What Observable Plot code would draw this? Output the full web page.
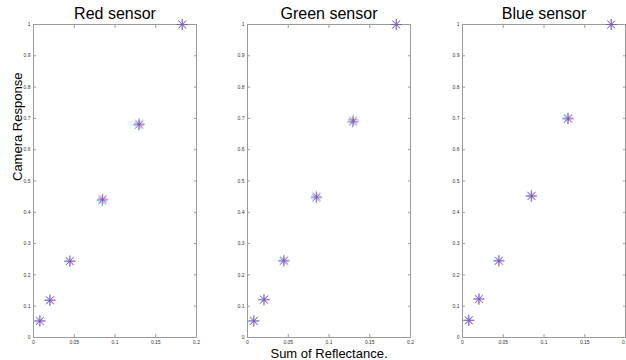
<!DOCTYPE html>
<html><head><meta charset="utf-8">
<script src="https://cdn.jsdelivr.net/npm/d3@7"></script>
<script src="https://cdn.jsdelivr.net/npm/@observablehq/plot@0.6"></script>
<style>
html,body{margin:0;padding:0;background:#fff;overflow:hidden}
#chart{position:relative;width:626px;height:360px;overflow:hidden}
#chart > div{position:absolute;top:0;width:206px;height:360px}
#chart svg{max-width:none}
</style></head><body><div id="chart"></div>
<script>
// ---- data ----
const sensors = ["Red sensor", "Green sensor", "Blue sensor"];
const seriesNames = ["red", "green", "blue", "cyan", "magenta"];
const seriesColors = ["#ff3030", "#20b020", "#2040ff", "#40b0ff", "#e040ff"];
const xTicks = [0, 0.05, 0.1, 0.15, 0.2];
const yTicks = [0, 0.1, 0.2, 0.3, 0.4, 0.5, 0.6, 0.7, 0.8, 0.9, 1];

// reflectance sums per series
const xRedSeries     = [0.0078, 0.0205, 0.0450, 0.0850, 0.1300, 0.1825];
const xGreenSeries   = [0.0080, 0.0200, 0.0445, 0.0845, 0.1295, 0.1825];
const xBlueSeries    = [0.0075, 0.0200, 0.0443, 0.0842, 0.1290, 0.1825];
const xCyanSeries    = [0.0072, 0.0198, 0.0440, 0.0840, 0.1288, 0.1825];
const xMagentaSeries = [0.0080, 0.0205, 0.0448, 0.0848, 0.1298, 0.1825];

// camera responses: red sensor
const redSensorRed     = [0.054, 0.120, 0.245, 0.443, 0.680, 1.0];
const redSensorGreen   = [0.053, 0.119, 0.244, 0.440, 0.684, 1.0];
const redSensorBlue    = [0.052, 0.118, 0.243, 0.437, 0.679, 1.0];
const redSensorCyan    = [0.055, 0.121, 0.246, 0.436, 0.677, 1.0];
const redSensorMagenta = [0.053, 0.119, 0.244, 0.441, 0.681, 1.0];
// green sensor
const greenSensorRed     = [0.053, 0.121, 0.246, 0.448, 0.692, 1.0];
const greenSensorGreen   = [0.054, 0.122, 0.248, 0.452, 0.696, 1.0];
const greenSensorBlue    = [0.052, 0.120, 0.243, 0.446, 0.688, 1.0];
const greenSensorCyan    = [0.053, 0.121, 0.244, 0.447, 0.689, 1.0];
const greenSensorMagenta = [0.053, 0.121, 0.245, 0.449, 0.690, 1.0];
// blue sensor
const blueSensorRed     = [0.055, 0.123, 0.245, 0.452, 0.699, 1.0];
const blueSensorGreen   = [0.054, 0.122, 0.246, 0.454, 0.702, 1.0];
const blueSensorBlue    = [0.055, 0.124, 0.244, 0.451, 0.698, 1.0];
const blueSensorCyan    = [0.056, 0.123, 0.247, 0.453, 0.700, 1.0];
const blueSensorMagenta = [0.055, 0.123, 0.245, 0.452, 0.699, 1.0];

const xBySeries = [xRedSeries, xGreenSeries, xBlueSeries, xCyanSeries, xMagentaSeries];
const yByPanel = [
  [redSensorRed, redSensorGreen, redSensorBlue, redSensorCyan, redSensorMagenta],
  [greenSensorRed, greenSensorGreen, greenSensorBlue, greenSensorCyan, greenSensorMagenta],
  [blueSensorRed, blueSensorGreen, blueSensorBlue, blueSensorCyan, blueSensorMagenta]
];

// ---- drawing ----
const asterisk = {
  draw(ctx, size) {
    const r = Math.sqrt(size / Math.PI), d = r * Math.SQRT1_2;
    ctx.moveTo(-r, 0); ctx.lineTo(r, 0);
    ctx.moveTo(0, -r); ctx.lineTo(0, r);
    ctx.moveTo(-d, -d); ctx.lineTo(d, d);
    ctx.moveTo(-d, d); ctx.lineTo(d, -d);
  }
};
const fmt = d => String(+d.toFixed(2));
const frameColor = "#9a9a9a";
const lefts = [0, 214, 429];
const chart = document.getElementById("chart");

sensors.forEach((title, p) => {
  const rows = [];
  seriesNames.forEach((s, k) => {
    xBySeries[k].forEach((x, i) => rows.push({x, y: yByPanel[p][k][i], s}));
  });
  const marks = [
    Plot.frame({stroke: frameColor}),
    Plot.axisY(yTicks, {anchor: "left", tickSize: 0, tickPadding: 3, fontSize: 5, tickFormat: fmt, label: null, fill: "#333"}),
    Plot.axisY(yTicks, {anchor: "left", tickSize: -3, tickFormat: () => "", label: null, stroke: frameColor}),
    Plot.axisY(yTicks, {anchor: "right", tickSize: -3, tickFormat: () => "", label: null, stroke: frameColor}),
    Plot.axisX(xTicks, {anchor: "bottom", tickSize: 0, tickPadding: 3, fontSize: 5, tickFormat: fmt, label: null, fill: "#333"}),
    Plot.axisX(xTicks, {anchor: "bottom", tickSize: -3, tickFormat: () => "", label: null, stroke: frameColor}),
    Plot.axisX(xTicks, {anchor: "top", tickSize: -3, tickFormat: () => "", label: null, stroke: frameColor}),
    Plot.dot(rows, {x: "x", y: "y", stroke: "s", symbol: asterisk, r: 5.5, fill: "none", strokeWidth: 0.5, strokeOpacity: 0.6}),
    Plot.text([title], {frameAnchor: "top", dy: -11, lineAnchor: "middle", fontSize: 16, fill: "#000"})
  ];
  if (p === 0) marks.push(Plot.text(["Camera Response"], {frameAnchor: "left", dx: -16, rotate: -90, fontSize: 13, fill: "#000"}));
  if (p === 1) marks.push(Plot.text(["Sum of Reflectance."], {frameAnchor: "bottom", dy: 16, lineAnchor: "middle", fontSize: 13, fill: "#000"}));
  const svg = Plot.plot({
    width: 206, height: 360,
    marginLeft: 33, marginRight: 10, marginTop: 24, marginBottom: 23,
    x: {domain: [0, 0.2]},
    y: {domain: [0, 1]},
    color: {domain: seriesNames, range: seriesColors},
    style: {fontFamily: "Liberation Sans, Arial, sans-serif", background: "transparent", overflow: "visible", maxWidth: "none"},
    marks
  });
  const wrap = document.createElement("div");
  wrap.style.left = lefts[p] + "px";
  wrap.appendChild(svg);
  chart.appendChild(wrap);
});
</script></body></html>
